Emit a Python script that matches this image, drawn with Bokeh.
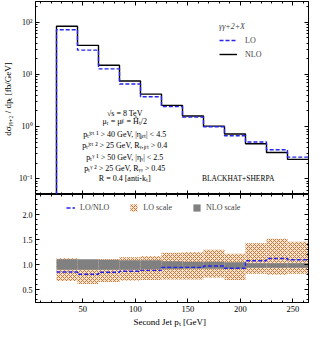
import numpy as np
from bokeh.plotting import figure
from bokeh.layouts import column
from bokeh.models import (LinearAxis, LogAxis, FixedTicker, Legend, LegendItem,
                          Label, Range1d, PrintfTickFormatter, CustomJSTickFormatter)
from bokeh.embed import file_html
from bokeh.resources import INLINE

# ---------------- data ----------------
bin_edges = [25, 45, 65, 85, 105, 125, 145, 165, 185, 205, 225, 245, 265]
nlo = [84, 36, 15, 7.5, 4.2, 2.55, 1.6, 1.02, 0.72, 0.47, 0.32, 0.236]
lo = [72, 29.2, 12.8, 6.55, 3.74, 2.42, 1.52, 0.995, 0.67, 0.508, 0.36, 0.26]
lo_scale_low = [0.68, 0.62, 0.66, 0.69, 0.70, 0.71, 0.71, 0.75, 0.70, 0.82, 0.80, 0.82]
lo_scale_high = [1.13, 1.08, 1.11, 1.15, 1.17, 1.24, 1.25, 1.30, 1.22, 1.43, 1.52, 1.46]
nlo_scale_low = [0.90, 0.90, 0.90, 0.90, 0.91, 0.91, 0.92, 0.92, 0.92, 0.94, 0.94, 0.94]
nlo_scale_high = [1.11, 1.11, 1.10, 1.09, 1.09, 1.07, 1.06, 1.06, 1.05, 1.03, 1.03, 1.03]
x_ticks = [50, 100, 150, 200, 250]
y_ticks_top = [0.1, 1, 10, 100]
y_tick_labels_top = {0.1: "10⁻¹", 1: "10⁰", 10: "10¹", 100: "10²"}
y_ticks_bottom = [0.5, 1.0, 1.5, 2.0]

FONT = "Liberation Serif"
BLUE = "#2424ee"
YMIN_TOP, YMAX_TOP = 0.05, 250

edges = np.array(bin_edges, dtype=float)
ratio = np.array(lo) / np.array(nlo)


def step_xy(e, vals, start=None):
    xs, ys = [], []
    if start is not None:
        xs.append(e[0]); ys.append(start)
    for i, v in enumerate(vals):
        xs += [e[i], e[i + 1]]
        ys += [v, v]
    return xs, ys


def style_axis(ax, size="8px", labels=True):
    ax.major_tick_in = 4
    ax.major_tick_out = 0
    ax.minor_tick_in = 2
    ax.minor_tick_out = 0
    ax.axis_line_color = "black"
    ax.major_tick_line_color = "black"
    ax.minor_tick_line_color = "black"
    ax.major_label_text_font = FONT
    ax.major_label_text_color = "black"
    ax.axis_label_text_font = FONT
    ax.axis_label_text_color = "black"
    ax.axis_label_text_font_style = "normal"
    if labels:
        ax.major_label_text_font_size = size
        ax.major_label_standoff = 3
    else:
        ax.formatter = CustomJSTickFormatter(code="return ''")
        ax.major_label_text_font_size = "1px"
        ax.major_label_text_alpha = 0
        ax.major_label_standoff = 0


x_ticker = FixedTicker(ticks=x_ticks, minor_ticks=list(range(10, 270, 10)))
log_minor = [k * 10.0 ** e for e in range(-2, 3) for k in range(2, 10)]
y_ticker_top = FixedTicker(ticks=y_ticks_top, minor_ticks=log_minor)
y_ticker_bot = FixedTicker(ticks=y_ticks_bottom,
                           minor_ticks=[round(0.3 + 0.1 * i, 1) for i in range(21)])

# ---------------- top panel ----------------
p1 = figure(width=310, height=194, x_range=Range1d(5, 265),
            y_range=Range1d(YMIN_TOP, YMAX_TOP), y_axis_type="log",
            x_axis_location=None, output_backend="svg", toolbar_location=None,
            min_border_left=30, min_border_right=2, min_border_top=1,
            min_border_bottom=0)
p1.grid.visible = False
p1.outline_line_color = "black"
p1.background_fill_color = "white"

ya = p1.yaxis[0]
ya.ticker = y_ticker_top
ya.major_label_overrides = y_tick_labels_top
style_axis(ya)
ya.axis_label = "dσᵧᵧ₊₂ / dpₜ  [fb/GeV]"
ya.axis_label_text_font_size = "9px"
ya.axis_label_standoff = 3

ra = LogAxis(ticker=y_ticker_top)
style_axis(ra, labels=False)
p1.add_layout(ra, "right")
for loc in ("below", "above"):
    xa = LinearAxis(ticker=x_ticker)
    style_axis(xa, labels=False)
    p1.add_layout(xa, loc)

xs_n, ys_n = step_xy(edges, nlo, start=YMIN_TOP)
xs_l, ys_l = step_xy(edges, lo, start=YMIN_TOP)
r_nlo = p1.line(xs_n, ys_n, line_color="black", line_width=1.4)
r_lo = p1.line(xs_l, ys_l, line_color=BLUE, line_width=1.4, line_dash="4 2")

leg1 = Legend(items=[LegendItem(label="LO", renderers=[r_lo]),
                     LegendItem(label="NLO", renderers=[r_nlo])],
              title="γγ+2+X", location=(184, 135), glyph_width=18,
              glyph_height=10, label_height=10, label_standoff=8, spacing=4,
              padding=0, margin=0, border_line_color=None,
              background_fill_alpha=0, label_text_font=FONT,
              label_text_font_size="8px", title_text_font=FONT,
              title_text_font_size="8px", title_text_font_style="italic",
              title_standoff=4)
p1.add_layout(leg1)

info_lines = ["√s = 8 TeV",
              "μᵣ = μꜰ = Ĥₜ/2",
              "pₜʲᵉᵗ ¹ > 40 GeV, |ηⱼₑₜ| < 4.5",
              "pₜʲᵉᵗ ² > 25 GeV, Rᵧ,ⱼₑₜ > 0.4",
              "pₜᵞ ¹ > 50 GeV, |ηᵧ| < 2.5",
              "pₜᵞ ² > 25 GeV, Rᵧᵧ > 0.45",
              "R = 0.4 [anti‑kₜ]"]
info_y = [1.81, 1.23, 0.718, 0.428, 0.255, 0.158, 0.103]
for t, yv in zip(info_lines, info_y):
    p1.add_layout(Label(x=90, y=yv, text=t, text_align="center",
                        text_baseline="middle", text_font=FONT,
                        text_font_size="8px", text_color="black"))
p1.add_layout(Label(x=198, y=0.101, text="BLACKHAT+SHERPA", text_align="center",
                    text_baseline="middle", text_font=FONT,
                    text_font_size="7.5px", text_color="black"))

# ---------------- bottom panel ----------------
p2 = figure(width=310, height=135, x_range=p1.x_range,
            y_range=Range1d(0.25, 2.4), output_backend="svg",
            toolbar_location=None, min_border_left=30, min_border_right=2,
            min_border_top=0, min_border_bottom=0)
p2.grid.visible = False
p2.outline_line_color = "black"

xb = p2.xaxis[0]
xb.ticker = x_ticker
style_axis(xb, size="8.5px")
xb.axis_label = "Second Jet  pₜ  [GeV]"
xb.axis_label_text_font_size = "9px"
xb.axis_label_standoff = 2

yb = p2.yaxis[0]
yb.ticker = y_ticker_bot
yb.formatter = PrintfTickFormatter(format="%.1f")
style_axis(yb)

rb = LinearAxis(ticker=y_ticker_bot)
style_axis(rb, labels=False)
p2.add_layout(rb, "right")
tb = LinearAxis(ticker=x_ticker)
style_axis(tb, labels=False)
p2.add_layout(tb, "above")

r_loband = p2.quad(left=edges[:-1], right=edges[1:], bottom=lo_scale_low,
                   top=lo_scale_high, fill_color="#fbe2cc", fill_alpha=0.9,
                   hatch_pattern="x", hatch_color="#c8773a", hatch_scale=4,
                   hatch_weight=1.0, line_color=None)
r_nloband = p2.quad(left=edges[:-1], right=edges[1:], bottom=nlo_scale_low,
                    top=nlo_scale_high, fill_color="#808080", line_color=None)
xs_r, ys_r = step_xy(edges, ratio)
r_ratio = p2.line(xs_r, ys_r, line_color=BLUE, line_width=1.4, line_dash="4 2")

leg2 = Legend(items=[LegendItem(label="LO/NLO", renderers=[r_ratio]),
                     LegendItem(label="LO scale", renderers=[r_loband]),
                     LegendItem(label="NLO scale", renderers=[r_nloband])],
              orientation="horizontal", location=(31, 90), glyph_width=9,
              glyph_height=9, label_height=9, label_width=10, label_standoff=5,
              spacing=20, padding=0, margin=0, border_line_color=None,
              background_fill_alpha=0, label_text_font=FONT,
              label_text_font_size="8px")
p2.add_layout(leg2)

layout = column(p1, p2, spacing=0)
open("out.html", "w").write(file_html(layout, INLINE))
